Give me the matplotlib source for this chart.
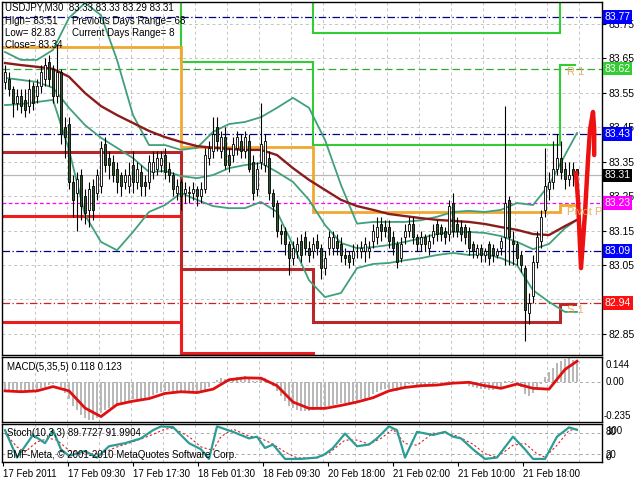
import numpy as np
import matplotlib
matplotlib.use('Agg')
import matplotlib.pyplot as plt
from matplotlib.transforms import blended_transform_factory as btf

plt.rcParams['font.family'] = ['Liberation Sans', 'DejaVu Sans']

# ---------------- data ----------------
O = [83.58,83.59,83.56,83.52,83.54,83.53,83.51,83.57,83.54,83.57,
     83.59,83.64,83.62,83.54,83.61,83.45,83.46,83.29,83.26,83.31,
     83.25,83.21,83.28,83.26,83.28,83.40,83.36,83.35,83.33,83.31,
     83.29,83.28,83.34,83.29,83.32,83.29,83.29,83.32,83.33,83.34,
     83.37,83.33,83.31,83.26,83.29,83.26,83.26,83.26,83.27,83.25,
     83.27,83.36,83.38,83.45,83.38,83.42,83.37,83.37,83.39,83.41,
     83.38,83.41,83.35,83.27,83.35,83.34,83.36,83.26,83.23,83.15,
     83.15,83.11,83.07,83.09,83.12,83.13,83.10,83.09,83.12,83.10,
     83.04,83.10,83.10,83.12,83.11,83.08,83.08,83.07,83.09,83.09,
     83.09,83.09,83.12,83.13,83.17,83.16,83.16,83.13,83.11,83.07,
     83.13,83.15,83.17,83.13,83.11,83.13,83.10,83.13,83.17,83.16,
     83.15,83.14,83.23,83.17,83.16,83.16,83.15,83.11,83.08,83.10,
     83.08,83.11,83.10,83.08,83.10,83.13,83.24,83.12,83.11,83.08,
     83.04,82.91,82.96,83.06,83.12,83.21,83.27,83.29,83.33,83.36,
     83.33,83.30,83.33,83.33]
C = [83.61,83.56,83.52,83.54,83.51,83.50,83.56,83.52,83.57,83.61,
     83.63,83.59,83.54,83.61,83.43,83.42,83.29,83.24,83.30,83.22,
     83.20,83.27,83.21,83.31,83.39,83.34,83.34,83.31,83.29,83.28,
     83.31,83.31,83.29,83.33,83.28,83.28,83.35,83.35,83.36,83.36,
     83.32,83.31,83.27,83.28,83.25,83.27,83.26,83.27,83.25,83.27,
     83.37,83.39,83.43,83.41,83.42,83.34,83.34,83.40,83.42,83.38,
     83.42,83.33,83.26,83.33,83.40,83.41,83.26,83.22,83.15,83.14,
     83.11,83.07,83.10,83.11,83.08,83.10,83.08,83.11,83.10,83.04,
     83.07,83.13,83.13,83.10,83.08,83.07,83.06,83.09,83.09,83.10,
     83.11,83.10,83.15,83.16,83.15,83.15,83.12,83.10,83.06,83.11,
     83.15,83.17,83.13,83.11,83.13,83.11,83.12,83.15,83.14,83.14,
     83.13,83.22,83.15,83.15,83.14,83.13,83.10,83.09,83.10,83.08,
     83.09,83.07,83.08,83.09,83.12,83.23,83.13,83.11,83.07,83.05,
     82.92,82.94,83.06,83.13,83.19,83.28,83.29,83.33,83.36,83.32,
     83.30,83.31,83.31,83.31]
H = [83.63,83.61,83.57,83.56,83.56,83.56,83.59,83.58,83.59,83.63,
     83.65,83.66,83.63,83.69,83.62,83.48,83.48,83.31,83.32,83.33,
     83.27,83.29,83.30,83.33,83.41,83.42,83.38,83.37,83.35,83.32,
     83.33,83.35,83.38,83.35,83.34,83.31,83.37,83.38,83.38,83.38,
     83.39,83.35,83.32,83.30,83.30,83.29,83.28,83.29,83.28,83.29,
     83.39,83.41,83.48,83.48,83.44,83.45,83.39,83.42,83.44,83.43,
     83.44,83.43,83.37,83.35,83.52,83.43,83.38,83.27,83.24,83.17,
     83.16,83.12,83.12,83.13,83.14,83.15,83.12,83.13,83.14,83.11,
     83.09,83.15,83.15,83.14,83.13,83.10,83.09,83.11,83.11,83.12,
     83.13,83.12,83.17,83.19,83.19,83.18,83.18,83.15,83.12,83.13,
     83.17,83.19,83.19,83.14,83.15,83.14,83.14,83.17,83.18,83.17,
     83.16,83.24,83.26,83.19,83.18,83.17,83.16,83.12,83.11,83.11,
     83.10,83.12,83.11,83.10,83.13,83.51,83.25,83.15,83.12,83.09,
     83.05,82.97,83.08,83.15,83.21,83.39,83.32,83.41,83.43,83.41,
     83.35,83.35,83.35,83.33]
L = [83.56,83.54,83.48,83.50,83.49,83.48,83.49,83.50,83.52,83.55,
     83.57,83.57,83.52,83.52,83.40,83.36,83.27,83.19,83.15,83.18,
     83.17,83.16,83.18,83.24,83.26,83.32,83.30,83.29,83.26,83.25,
     83.27,83.26,83.26,83.27,83.25,83.25,83.27,83.30,83.31,83.32,
     83.30,83.29,83.25,83.24,83.21,83.23,83.23,83.24,83.22,83.23,
     83.26,83.34,83.36,83.38,83.36,83.33,83.32,83.35,83.37,83.36,
     83.36,83.32,83.24,83.25,83.33,83.32,83.24,83.19,83.13,83.11,
     83.08,83.02,83.05,83.07,83.06,83.08,83.06,83.07,83.08,83.01,
     83.02,83.08,83.08,83.08,83.06,83.05,83.04,83.05,83.07,83.07,
     83.06,83.07,83.10,83.11,83.12,83.13,83.10,83.08,83.04,83.06,
     83.11,83.13,83.11,83.09,83.09,83.09,83.08,83.11,83.12,83.12,
     83.11,83.12,83.13,83.13,83.12,83.11,83.08,83.07,83.07,83.06,
     83.06,83.05,83.06,83.07,83.08,83.05,83.05,83.05,83.05,83.03,
     82.83,82.88,82.94,83.04,83.10,83.19,83.24,83.27,83.31,83.30,
     83.27,83.28,83.28,83.29]

band_idx = list(range(0, 141, 4)) + [143]
bb_upper = [83.668,83.645,83.645,83.674,83.767,83.810,83.775,83.645,83.485,83.398,
            83.398,83.384,83.390,83.436,83.459,83.465,83.479,83.506,83.535,83.506,
            83.413,83.282,83.170,83.175,83.175,83.175,83.180,83.190,83.204,83.207,
            83.204,83.210,83.230,83.224,83.282,83.369,83.433]
bb_mid = [83.593,83.587,83.581,83.564,83.506,83.456,83.419,83.390,83.360,83.320,
          83.323,83.308,83.302,83.311,83.331,83.340,83.346,83.320,83.291,83.239,
          83.166,83.114,83.099,83.102,83.108,83.117,83.128,83.140,83.146,83.146,
          83.143,83.134,83.117,83.096,83.111,83.157,83.181]
bb_lower = [83.514,83.517,83.523,83.529,83.384,83.195,83.117,83.093,83.146,83.204,
            83.224,83.259,83.239,83.221,83.215,83.215,83.233,83.204,83.108,83.006,
            82.957,82.969,83.041,83.053,83.056,83.064,83.070,83.079,83.085,83.079,
            83.082,83.070,83.050,82.977,82.943,82.914,82.914]
ma = [83.636,83.630,83.625,83.619,83.596,83.549,83.511,83.485,83.462,83.439,
      83.421,83.407,83.395,83.390,83.387,83.384,83.384,83.369,83.331,83.297,
      83.268,83.239,83.221,83.210,83.198,83.192,83.186,83.181,83.178,83.175,
      83.169,83.160,83.152,83.140,83.137,83.163,83.181]

# pivot levels per day
day_edges = [-0.75, 44, 77, 138.75, 142.5]
piv_P = [83.683, 83.392, 83.204, 83.224]
piv_R1 = [83.95, 83.639, 83.398, 83.630]
piv_R2 = [84.20, 84.00, 83.723, 83.95]
piv_S1 = [83.378, 83.038, 82.885, 82.937]
piv_S2 = [83.192, 82.795, 82.60, 82.70]
piv_S3 = [82.885, 82.50, 82.30, 82.40]

# horizontal reference levels
h_levels = [83.77, 83.62, 83.43, 83.31, 83.23, 83.09, 82.94]
h_labels = ['83.77', '83.62', '83.43', '83.31', '83.23', '83.09', '82.94']

# projection line (bar position, price)
proj_x = [142.75, 143.25, 144.0, 145.0, 145.75, 146.25, 147.0, 147.3, 147.3]
proj_y = [83.317, 83.239, 83.041, 83.201, 83.355, 83.442, 83.494, 83.442, 83.369]

price_ticks = [82.85, 82.95, 83.05, 83.15, 83.25, 83.35, 83.45, 83.55, 83.65, 83.75]

macd_hist = [-0.05,-0.05,-0.055,-0.055,-0.06,-0.06,-0.055,-0.05,-0.045,-0.035,-0.025,-0.015,-0.01,
             -0.005,-0.03,-0.06,-0.10,-0.14,-0.16,-0.19,-0.21,-0.22,-0.22,
             -0.21,-0.18,-0.16,-0.15,-0.14,-0.13,-0.12,-0.115,-0.11,-0.10,
             -0.10,-0.10,-0.095,-0.085,-0.075,-0.065,-0.055,-0.05,-0.05,-0.055,
             -0.06,-0.065,-0.065,-0.065,-0.065,-0.065,-0.06,-0.045,-0.025,0.0,
             0.015,0.025,0.02,0.02,0.025,0.03,0.03,0.035,0.025,0.005,
             0.005,0.02,0.025,0.005,-0.02,-0.05,-0.08,-0.11,-0.14,-0.15,
             -0.16,-0.165,-0.165,-0.165,-0.16,-0.155,-0.16,-0.155,-0.14,-0.13,
             -0.125,-0.12,-0.12,-0.12,-0.115,-0.11,-0.10,-0.095,-0.085,-0.07,
             -0.055,-0.045,-0.04,-0.04,-0.045,-0.05,-0.04,-0.025,-0.01,-0.01,
             -0.015,-0.015,-0.015,-0.015,-0.01,-0.005,-0.005,-0.005,0.01,0.005,
             0.0,-0.005,-0.01,-0.02,-0.03,-0.035,-0.04,-0.04,-0.045,-0.045,
             -0.04,-0.03,0.01,0.01,0.005,-0.01,-0.025,-0.07,-0.08,-0.065,
             -0.04,-0.01,0.03,0.06,0.085,0.11,0.125,0.135,0.14,0.13,0.118]
macd_sig = [-0.05,-0.055,-0.05,-0.025,-0.05,-0.15,-0.20,-0.13,-0.11,-0.095,
            -0.065,-0.055,-0.06,-0.04,0.015,0.026,0.024,-0.02,-0.115,-0.152,
            -0.152,-0.135,-0.115,-0.09,-0.05,-0.03,-0.02,-0.016,-0.005,0.0,
            -0.02,-0.035,-0.01,-0.035,-0.04,0.075,0.123]

st_x = [0,3,7,10,12,14,16,20,23,26,30,34,37,39,42,46,49,51,53,57,
        61,63,65,67,70,74,78,80,82,85,88,91,93,96,98,100,103,107,110,112,
        114,117,120,123,127,130,132,135,138,141,143]
st_k = [89,9,75,51,89,33,14,28,9,42,51,65,89,100,98,51,33,5,100,84,
        65,70,37,47,5,5,9,19,37,79,42,47,65,100,89,9,84,75,84,70,
        65,33,5,9,70,33,5,5,70,97,90]
sd_x = [0,3,5,8,11,13,16,20,24,28,32,36,40,42,46,49,52,54,57,61,
        64,67,70,73,78,81,85,88,91,94,97,100,103,107,110,113,117,120,123,127,
        130,133,135,138,141,143]
sd_v = [80,40,25,55,65,60,30,20,20,40,55,72,92,95,70,40,30,70,92,72,
        65,48,25,8,8,22,60,60,48,65,92,50,45,80,80,72,48,20,10,45,
        50,20,10,45,88,92]

date_labels = ['17 Feb 2011', '17 Feb 09:30', '17 Feb 17:30', '18 Feb 01:30', '18 Feb 09:30',
               '20 Feb 18:00', '21 Feb 02:00', '21 Feb 10:00', '21 Feb 18:00']
date_pos = [-0.5, 15.75, 32.0, 48.25, 64.5, 80.75, 97.0, 113.25, 129.5]

# ---------------- figure ----------------
W, HH = 640, 480
fig = plt.figure(figsize=(6.4, 4.8), dpi=100, facecolor='white')


def axes_px(left, top, right, bottom):
    return fig.add_axes([left / W, 1 - bottom / HH, (right - left) / W, (bottom - top) / HH])


ax = axes_px(2, 2, 602, 355)
axm = axes_px(2, 357, 602, 422)
axs = axes_px(2, 424, 602, 462)
XL = (-0.75, 149.25)
GRID = '#c4c4c4'
vgrid = [7.5 + 8 * k for k in range(18)]

for a in (ax, axm, axs):
    a.set_xlim(*XL)
    a.set_facecolor('white')
    for s in a.spines.values():
        s.set_color('black')
        s.set_linewidth(1.0)
    for v in vgrid:
        a.axvline(v, color=GRID, ls=(0, (3, 3)), lw=0.7, zorder=0)
    a.tick_params(axis='x', bottom=False, labelbottom=False)

# ---- main panel ----
ax.set_ylim(82.789, 83.813)
for p in price_ticks:
    ax.axhline(p, color=GRID, ls=(0, (3, 3)), lw=0.7, zorder=0)
ax.yaxis.tick_right()
ax.set_yticks(price_ticks)
# 82.95 sits fully under the 82.94 tag in the reference, so its label is left blank
ax.set_yticklabels(['' if abs(p - 82.95) < 1e-6 else f'{p:.2f}' for p in price_ticks])
ax.tick_params(axis='y', length=3, width=0.8, labelsize=7.5, pad=2)

line_styles = [('#000080', (0, (6, 2, 1, 2))), ('#33aa33', (0, (6, 3))), ('#000080', (0, (6, 2, 1, 2))),
               ('#b8b8b8', '-'), ('#ff00ff', (0, (3, 2))), ('#000080', (0, (6, 2, 1, 2))),
               ('#cc2020', (0, (6, 2, 1, 2)))]
box_colors = ['#0000ff', '#33cc33', '#0000ff', '#000000', '#ff00ff', '#0000ff', '#ff1010']
for lvl, (col, ls) in zip(h_levels, line_styles):
    ax.axhline(lvl, color=col, ls=ls, lw=0.9, zorder=1)


def step_line(levels, color, lw):
    xs = day_edges
    ys = levels + [levels[-1]]
    ax.step(xs, ys, where='post', color=color, lw=lw, zorder=2, solid_joinstyle='miter')


step_line(piv_R2, '#33cc33', 1.5)
step_line(piv_R1, '#33cc33', 1.5)
step_line(piv_P, '#f0a830', 2.0)
step_line(piv_S3, '#ee1c1c', 2.2)
step_line(piv_S2, '#ee1c1c', 2.2)
step_line(piv_S1, '#b82828', 2.2)

# bands and MA
ax.plot(band_idx, bb_upper, color='#3fa07a', lw=1.3, zorder=3)
ax.plot(band_idx, bb_mid, color='#3fa07a', lw=1.3, zorder=3)
ax.plot(band_idx, bb_lower, color='#3fa07a', lw=1.3, zorder=3)
ax.plot(band_idx, ma, color='#8b1c1c', lw=1.7, zorder=3)

# candles
idx = np.arange(len(C))
O_a, C_a, H_a, L_a = map(np.array, (O, C, H, L))
ax.vlines(idx, L_a, H_a, color='black', lw=0.8, zorder=4)
bottoms = np.minimum(O_a, C_a)
heights = np.maximum(np.abs(C_a - O_a), 0.002)
cols = ['white' if c >= o else '#2a5a2a' for o, c in zip(O, C)]
ax.bar(idx, heights, bottom=bottoms, width=0.7, color=cols, edgecolor='black', lw=0.6, zorder=5)

# projection
ax.plot(proj_x, proj_y, color='#ee1111', lw=3.2, solid_capstyle='round', solid_joinstyle='round', zorder=6)

# level tags
tr = btf(ax.transAxes, ax.transData)
for lvl, lab, bc in zip(h_levels, h_labels, box_colors):
    ax.text(1.004, lvl, lab, transform=tr, va='center', ha='left', fontsize=7.5, color='white',
            bbox=dict(boxstyle='square,pad=0.18', fc=bc, ec='none'), zorder=10, clip_on=False)

# pivot names
for txt, yv in [('R 1', 83.61), ('Pivot P', 83.204), ('S 1', 82.92)]:
    ax.text(140.6, yv, txt, color='#e8a850', fontsize=8, va='center', ha='left', zorder=7, alpha=0.9)


def ftext(x, y, s, **kw):
    fig.text(x / W, 1 - y / HH, s, va='center', ha='left', fontsize=7, color='black', zorder=20, **kw)


ftext(5, 8, 'USDJPY,M30  83.33 83.33 83.29 83.31')
ftext(5, 21, 'High= 83.51')
ftext(72, 21, 'Previous Days Range= 68')
ftext(5, 33, 'Low= 82.83')
ftext(72, 33, 'Current Days Range= 8')
ftext(5, 45, 'Close= 83.34')

# ---- MACD panel ----
axm.set_ylim(-0.2315, 0.1475)
axm.bar(idx, macd_hist, width=0.45, color='#b8b8b8', zorder=2)
axm.axhline(0, color='#a8a8a8', ls=(0, (3, 3)), lw=0.7, zorder=1)
axm.plot(band_idx, macd_sig, color='#e01010', lw=2.0, zorder=3)
axm.set_yticks([])
ftext(7, 367, 'MACD(5,35,5) 0.118 0.123')
ftext(606, 365, '0.144')
ftext(606, 382, '0.00')
ftext(604, 416, '-0.235')

# ---- Stochastic panel ----
axs.set_ylim(-4, 107)
axs.axhline(80, color='#a8a8a8', ls=(0, (3, 3)), lw=0.7, zorder=1)
axs.axhline(20, color='#a8a8a8', ls=(0, (3, 3)), lw=0.7, zorder=1)
axs.plot(sd_x, sd_v, color='#e02020', lw=0.8, ls=(0, (2, 2)), zorder=2)
axs.plot(st_x, st_k, color='#2a9d96', lw=1.6, zorder=3)
axs.set_yticks([])
ftext(7, 433, 'Stoch(10,3,3) 89.7727 91.9904')
ftext(7, 455, 'BMF-Meta, \u00a9 2001-2010 MetaQuotes Software Corp.')
ftext(606, 431, '100')
ftext(606, 432, '80')
ftext(606, 455, '20')
ftext(606, 457, '0')

axs.set_xticks(date_pos)
axs.set_xticklabels(date_labels, ha='left', fontsize=7)
axs.tick_params(axis='x', bottom=True, labelbottom=True, length=3, width=0.8, pad=2)

fig.savefig('out.png', dpi=100, facecolor='white')
